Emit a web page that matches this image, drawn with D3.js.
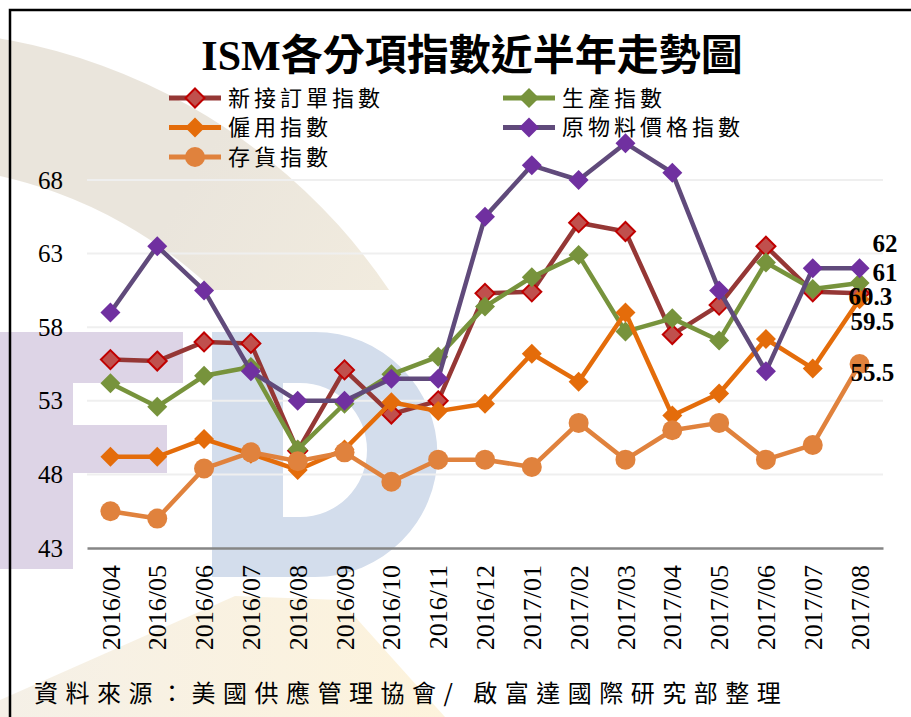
<!DOCTYPE html>
<html>
<head>
<meta charset="utf-8">
<script src="https://cdn.jsdelivr.net/npm/d3@7"></script>
<style>
  body { margin: 0; background: #fff; }
  svg { display: block; }
</style>
</head>
<body>
<svg id="chart" width="911" height="717"></svg>
<script>
// values
const months = ['2016/04', '2016/05', '2016/06', '2016/07', '2016/08', '2016/09', '2016/10', '2016/11',
  '2016/12', '2017/01', '2017/02', '2017/03', '2017/04', '2017/05', '2017/06', '2017/07', '2017/08'];
const seriesNames = ['新接訂單指數', '生產指數', '僱用指數', '原物料價格指數', '存貨指數'];
const newOrders = [55.8, 55.7, 57.0, 56.9, 49.6, 55.1, 52.1, 53.0, 60.3, 60.4, 65.1, 64.5, 57.5, 59.5, 63.5, 60.4, 60.3];
const production = [54.2, 52.6, 54.7, 55.3, 49.7, 52.8, 54.8, 56.0, 59.4, 61.4, 62.9, 57.7, 58.6, 57.1, 62.4, 60.6, 61.0];
const employment = [49.2, 49.2, 50.4, 49.4, 48.3, 49.7, 52.9, 52.3, 52.8, 56.2, 54.3, 59.0, 52.0, 53.5, 57.2, 55.2, 59.9];
const prices = [59.0, 63.5, 60.5, 55.0, 53.0, 53.0, 54.5, 54.5, 65.5, 69.0, 68.0, 70.5, 68.5, 60.5, 55.0, 62.0, 62.0];
const inventories = [45.5, 45.0, 48.4, 49.5, 48.9, 49.5, 47.5, 49.0, 49.0, 48.5, 51.5, 49.0, 51.0, 51.5, 49.0, 50.0, 55.5];
const lastLabels = ['60.3', '61', '59.5', '62', '55.5'];
const yTicks = [43, 48, 53, 58, 63, 68];
const titleText = 'ISM各分項指數近半年走勢圖';
const sourceText = '資料來源：美國供應管理協會/ 啟富達國際研究部整理';

const SERIF = '"Liberation Serif", "Times New Roman", "Noto Sans CJK TC", serif';
const CJK = '"Noto Sans CJK TC", "Noto Sans CJK JP", sans-serif';

// style per series, same order as seriesNames
const STYLES = [
  { line: '#953735', fill: '#C0504D', stroke: '#C00000', shape: 'diamond', r: 9.5, lab: { dx: -11, dy: 3 } },
  { line: '#77933C', fill: '#77933C', stroke: 'none', shape: 'diamond', r: 10, lab: { dx: 13, dy: -11 } },
  { line: '#E46C0A', fill: '#E46C0A', stroke: 'none', shape: 'diamond', r: 10, lab: { dx: -9, dy: 22 } },
  { line: '#604A7B', fill: '#7030A0', stroke: 'none', shape: 'diamond', r: 10, lab: { dx: 13, dy: -25 } },
  { line: '#E0823D', fill: '#E0823D', stroke: 'none', shape: 'circle', r: 10, lab: { dx: -9, dy: 8 } }
];

const series = [newOrders, production, employment, prices, inventories].map((vals, i) => ({
  name: seriesNames[i],
  label: lastLabels[i],
  style: STYLES[i],
  values: vals.map((v, j) => ({ month: months[j], value: v }))
}));

const PLOT = { left: 87, right: 883, top: 180, bottom: 548 };

/* global d3 */
const $svg = d3.select('#chart');

const scaleX = d3.scalePoint()
  .domain(months)
  .range([PLOT.left, PLOT.right])
  .padding(0.5);

const scaleY = d3.scaleLinear()
  .domain([43, 68])
  .range([PLOT.bottom, PLOT.top]);

function diamondPath(r) {
  return `M0,${-r}L${r},0L0,${r}L${-r},0Z`;
}

function drawMarker(sel, st) {
  if (st.shape === 'circle') {
    sel.append('circle').attr('r', st.r).attr('fill', st.fill);
  } else {
    sel.append('path')
      .attr('d', diamondPath(st.r))
      .attr('fill', st.fill)
      .attr('stroke', st.stroke)
      .attr('stroke-width', st.stroke === 'none' ? 0 : 2);
  }
}

// background logo watermark
function drawWatermark() {
  const defs = $svg.append('defs');
  const g1 = defs.append('linearGradient').attr('id', 'beige')
    .attr('gradientUnits', 'userSpaceOnUse')
    .attr('x1', 0).attr('y1', 60).attr('x2', 380).attr('y2', 280);
  g1.append('stop').attr('offset', 0).attr('stop-color', '#EAE5DC');
  g1.append('stop').attr('offset', 1).attr('stop-color', '#F8F1E0');
  const g2 = defs.append('linearGradient').attr('id', 'cream').attr('x1', 0).attr('x2', 1);
  g2.append('stop').attr('offset', 0).attr('stop-color', '#F5F0E7');
  g2.append('stop').attr('offset', 1).attr('stop-color', '#FDF3DC');
  defs.append('clipPath').attr('id', 'arcClip')
    .append('rect').attr('x', 0).attr('y', 0).attr('width', 911).attr('height', 290);

  const $wm = $svg.append('g').attr('class', 'watermark');
  const arc = d3.arc().innerRadius(455).outerRadius(590).startAngle(-0.3).endAngle(1.0);
  $wm.append('g')
    .attr('clip-path', 'url(#arcClip)')
    .append('path')
    .attr('transform', 'translate(-100,620)')
    .attr('d', arc())
    .attr('fill', 'url(#beige)');
  $wm.append('path')
    .attr('d', 'M0,700 L235,596 L340,600 L445,717 L0,717 Z')
    .attr('fill', 'url(#cream)');
  $wm.append('path')
    .attr('d', 'M0,332 H183 V383 H73 V425 H167 V473 H73 V569 H0 Z')
    .attr('fill', '#DDD4E6');
  $wm.append('path')
    .attr('d', 'M212,332 H315 A122.5,122.5 0 0 1 315,577 H212 Z M283,383 V517 H300 A67,67 0 0 0 300,383 Z')
    .attr('fill', '#D3DDEC')
    .attr('fill-rule', 'evenodd');
}

function drawAxes() {
  const $grid = $svg.append('g').attr('class', 'grid');
  $grid.selectAll('line')
    .data(yTicks.filter(d => d !== 43))
    .join('line')
    .attr('x1', PLOT.left).attr('x2', PLOT.right)
    .attr('y1', d => scaleY(d)).attr('y2', d => scaleY(d))
    .attr('stroke', '#EFEFEF')
    .attr('stroke-width', 2);

  const axisY = d3.axisLeft(scaleY)
    .tickValues(yTicks)
    .tickSize(0)
    .tickPadding(24)
    .tickFormat(d3.format('d'));

  const $ay = $svg.append('g')
    .attr('class', 'axis--y')
    .attr('transform', `translate(${PLOT.left},0)`)
    .call(axisY);
  $ay.select('.domain').remove();
  $ay.selectAll('text')
    .attr('font-family', SERIF)
    .attr('font-size', 25)
    .attr('fill', '#000');

  const axisX = d3.axisBottom(scaleX)
    .tickSize(0)
    .tickSizeOuter(0);

  const $ax = $svg.append('g')
    .attr('class', 'axis--x')
    .attr('transform', `translate(0,${PLOT.bottom})`)
    .call(axisX);
  $ax.select('.domain')
    .attr('stroke', '#868686')
    .attr('stroke-width', 2.5);
  $ax.selectAll('text')
    .attr('transform', 'rotate(-90)')
    .attr('text-anchor', 'end')
    .attr('x', -17)
    .attr('y', 0)
    .attr('dy', '0.33em')
    .attr('font-family', SERIF)
    .attr('font-size', 26)
    .attr('fill', '#000');
}

function drawSeries() {
  const line = d3.line()
    .x(d => scaleX(d.month))
    .y(d => scaleY(d.value));

  const $series = $svg.append('g').attr('class', 'series')
    .selectAll('g.s')
    .data(series)
    .join('g')
    .attr('class', 's');

  $series.append('path')
    .attr('d', d => line(d.values))
    .attr('fill', 'none')
    .attr('stroke', d => d.style.line)
    .attr('stroke-width', 4.5)
    .attr('stroke-linejoin', 'round');

  $series.each(function (s) {
    d3.select(this).selectAll('g.pt')
      .data(s.values)
      .join('g')
      .attr('class', 'pt')
      .attr('transform', d => `translate(${scaleX(d.month)},${scaleY(d.value)})`)
      .each(function () { drawMarker(d3.select(this), s.style); });
  });

  // value labels at last point
  $svg.append('g').attr('class', 'end-labels')
    .selectAll('text')
    .data(series)
    .join('text')
    .attr('x', d => scaleX(months[months.length - 1]) + d.style.lab.dx)
    .attr('y', d => scaleY(d.values[d.values.length - 1].value) + d.style.lab.dy)
    .attr('dy', '0.35em')
    .attr('font-family', SERIF)
    .attr('font-weight', 'bold')
    .attr('font-size', 25)
    .attr('fill', '#000')
    .text(d => d.label);
}

function drawLegend() {
  const colX = [169, 503];
  const $items = $svg.append('g').attr('class', 'legend')
    .selectAll('g')
    .data(series)
    .join('g')
    .attr('transform', (d, i) => `translate(${colX[i % 2]},${98 + Math.floor(i / 2) * 29.5})`);

  $items.append('line')
    .attr('x1', 0).attr('x2', 52)
    .attr('stroke', d => d.style.line)
    .attr('stroke-width', 5);

  $items.each(function (d) {
    drawMarker(d3.select(this).append('g').attr('transform', 'translate(26,0)'), d.style);
  });

  $items.append('text')
    .attr('x', 59)
    .attr('dy', '0.36em')
    .attr('font-family', CJK)
    .attr('font-size', 22)
    .attr('letter-spacing', 4)
    .attr('fill', '#000')
    .text(d => d.name);
}

function drawTexts() {
  $svg.append('text')
    .attr('x', 472)
    .attr('y', 70)
    .attr('text-anchor', 'middle')
    .attr('font-family', SERIF)
    .attr('font-weight', 'bold')
    .attr('font-size', 42)
    .attr('fill', '#000')
    .text(titleText);

  $svg.append('text')
    .attr('x', 34)
    .attr('y', 693)
    .attr('dy', '0.36em')
    .attr('font-family', CJK)
    .attr('font-size', 24)
    .attr('letter-spacing', 7.5)
    .attr('fill', '#000')
    .text(sourceText);

  // frame
  $svg.append('path')
    .attr('d', 'M10,717 V10 H911')
    .attr('fill', 'none')
    .attr('stroke', '#000')
    .attr('stroke-width', 2.5);
}

drawWatermark();
drawAxes();
drawSeries();
drawLegend();
drawTexts();
</script>
</body>
</html>
